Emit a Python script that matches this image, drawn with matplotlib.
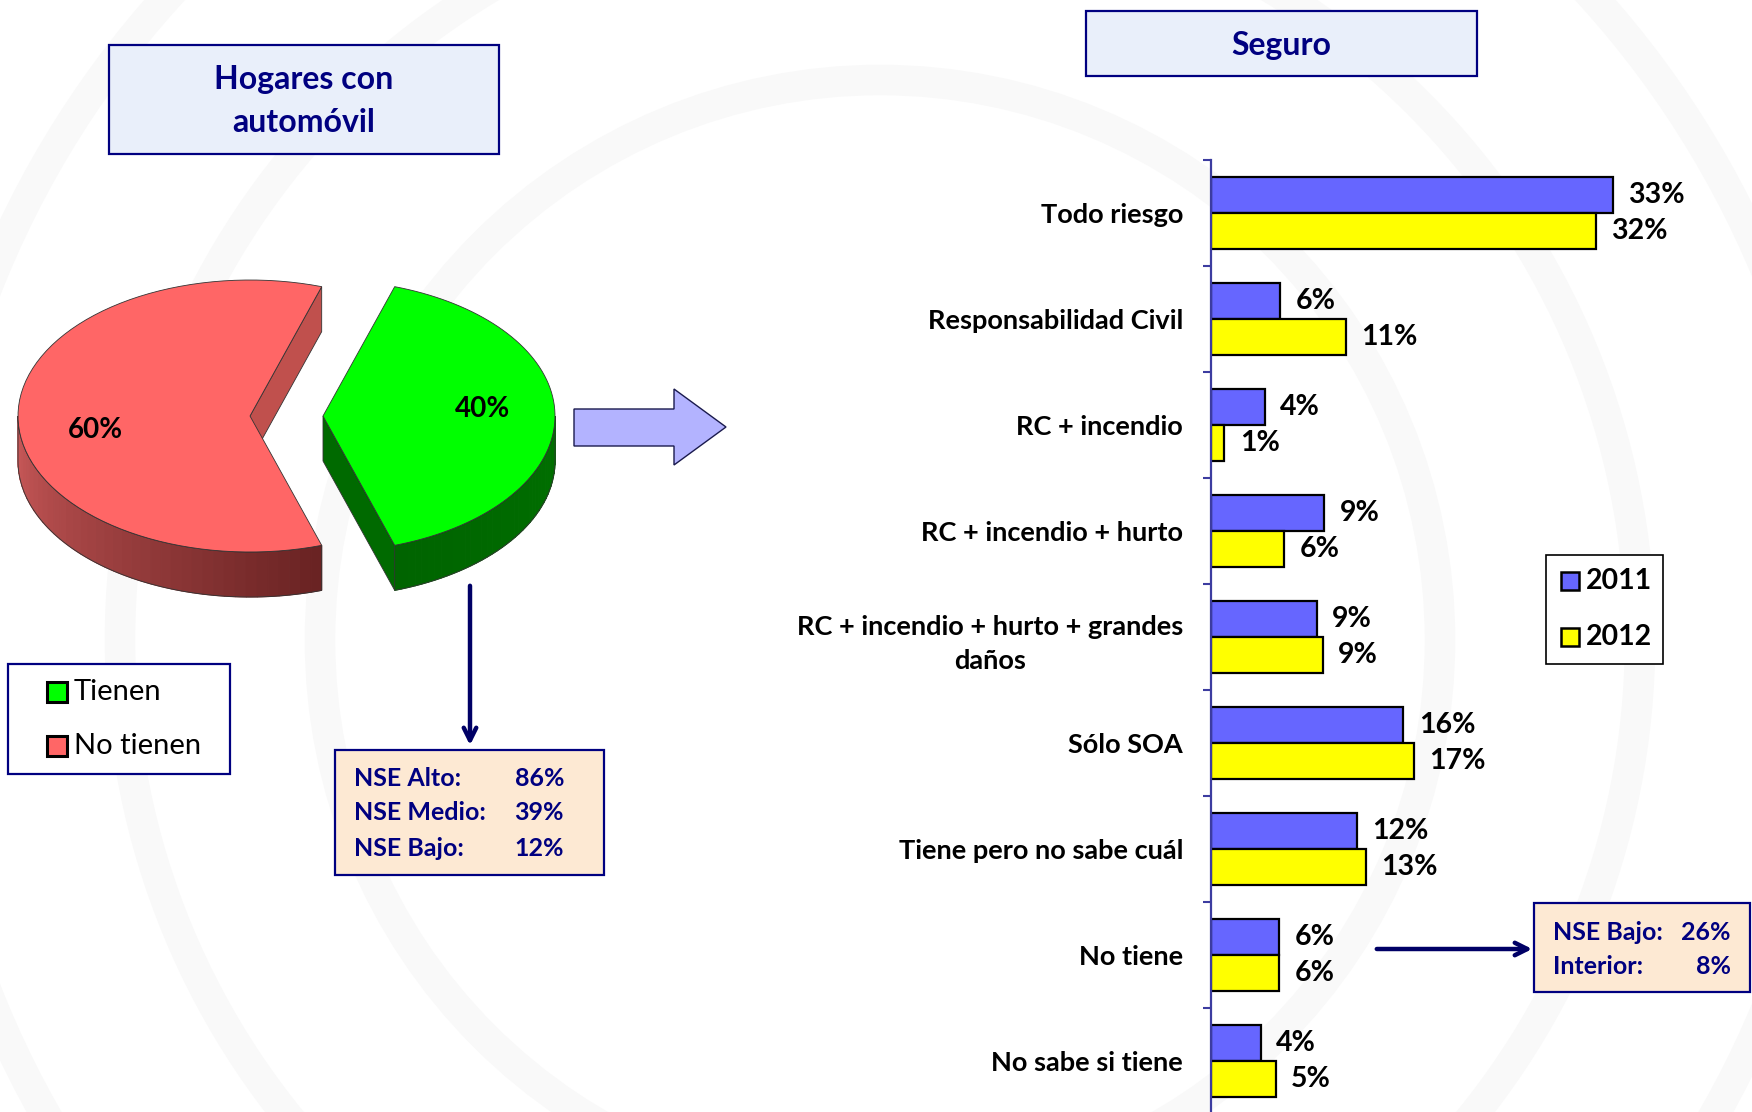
import numpy as np
import matplotlib
matplotlib.use("Agg")
import matplotlib.pyplot as plt
from matplotlib.patches import Polygon, Rectangle, Circle
from matplotlib.colors import to_rgb

# data
categories = [
    "Todo riesgo",
    "Responsabilidad Civil",
    "RC + incendio",
    "RC + incendio + hurto",
    "RC + incendio + hurto + grandes\ndaños",
    "Sólo SOA",
    "Tiene pero no sabe cuál",
    "No tiene",
    "No sabe si tiene",
]
values_2011 = [33.0, 5.7, 4.4, 9.3, 8.7, 15.8, 12.0, 5.6, 4.1]
values_2012 = [31.6, 11.1, 1.1, 6.0, 9.2, 16.7, 12.7, 5.6, 5.3]
years = ["2011", "2012"]

pie_labels = ["Tienen", "No tienen"]
pie_values = [40, 60]

nse_car_labels = ["NSE Alto:", "NSE Medio:", "NSE Bajo:"]
nse_car_values = ["86%", "39%", "12%"]
nse_none_labels = ["NSE Bajo:", "Interior:"]
nse_none_values = ["26%", "8%"]

plt.rcParams["font.family"] = ["Lato", "DejaVu Sans"]
NAVY = "#000080"
W, H = 1752, 1112

fig = plt.figure(figsize=(W / 100, H / 100), dpi=100)
fig.patch.set_facecolor("white")

bg = fig.add_axes([0, 0, 1, 1])
bg.set_xlim(0, W)
bg.set_ylim(H, 0)
bg.axis("off")

# faint watermark rings
for r in [560, 760, 960]:
    bg.add_patch(Circle((880, 640), r, fill=False, ec="#F9F9F9", lw=22, zorder=0))

# title boxes
bg.add_patch(Rectangle((109, 45), 390, 109, fc="#E9EFFA", ec=NAVY, lw=1.6, zorder=2))
bg.text(304, 101, "Hogares con\nautomóvil", ha="center", va="center", fontsize=23,
        fontweight="bold", color=NAVY, linespacing=1.6, zorder=3)
bg.add_patch(Rectangle((1086, 11), 391, 65, fc="#E9EFFA", ec=NAVY, lw=1.6, zorder=2))
bg.text(1281, 45, "Seguro", ha="center", va="center", fontsize=23,
        fontweight="bold", color=NAVY, zorder=3)

# 3D pie drawn from the shares
a, b, depth = 232, 136, 45
red_c = np.array([250.0, 416.0])
green_span = 360 * pie_values[0] / sum(pie_values)
g0, g1 = -green_span / 2, green_span / 2
explode = 73
green_c = red_c + np.array([explode, 0.0])


def pt(c, ang, dz=0):
    t = np.radians(ang)
    return np.array([c[0] + a * np.cos(t), c[1] - b * np.sin(t) + dz])


def arc(c, a0, a1, dz=0, n=80):
    return np.array([pt(c, t, dz) for t in np.linspace(a0, a1, n)])


def wall(c, a0, a1, col0, col1, strips=40):
    angs = np.linspace(a0, a1, strips + 1)
    c0, c1 = np.array(to_rgb(col0)), np.array(to_rgb(col1))
    for i in range(strips):
        top = arc(c, angs[i], angs[i + 1], 0, 6)
        bot = arc(c, angs[i + 1], angs[i], depth, 6)
        f = i / (strips - 1)
        col = c0 + (c1 - c0) * f
        bg.add_patch(Polygon(np.vstack([top, bot]), closed=True,
                             fc=col, ec=col, lw=0.8, zorder=4))
    outline = np.vstack([arc(c, a0, a1), arc(c, a1, a0, depth)])
    bg.add_patch(Polygon(outline, closed=True, fill=False, ec="#333333", lw=0.6, zorder=4))


def cut_face(c, ang, col):
    p = pt(c, ang)
    quad = [c, p, p + [0, depth], c + [0, depth]]
    bg.add_patch(Polygon(quad, closed=True, fc=col, ec="#333333", lw=0.6, zorder=4))


# red slice (No tienen)
r0, r1 = g1, 360 + g0
wall(red_c, 180, r1, "#CB5A5A", "#6A2323")
cut_face(red_c, r0, "#C0504D")
bg.add_patch(Polygon(np.vstack([[red_c], arc(red_c, r0, r1)]), closed=True,
                     fc="#FF6666", ec="#333333", lw=0.6, zorder=5))

# green slice (Tienen)
cut_face(green_c, g0, "#006A00")
wall(green_c, g0, 0, "#006400", "#007000")
bg.add_patch(Polygon(np.vstack([[green_c], arc(green_c, g0, g1)]), closed=True,
                     fc="#00FF00", ec="#333333", lw=0.6, zorder=5))

bg.text(95, 430, f"{pie_values[1]}%", ha="center", va="center", fontsize=20,
        fontweight="bold", zorder=6)
bg.text(483, 409, f"{pie_values[0]}%", ha="center", va="center", fontsize=20,
        fontweight="bold", zorder=6)

# pie legend
bg.add_patch(Rectangle((8, 664), 222, 110, fc="white", ec=NAVY, lw=1.6, zorder=2))
for yy, lab, col in zip([692, 746], pie_labels, ["#00FF00", "#FF6666"]):
    bg.add_patch(Rectangle((47, yy - 10), 20, 20, fc=col, ec="black", lw=2.2, zorder=3))
    bg.text(74, yy, lab, ha="left", va="center", fontsize=21, zorder=3)

# block arrow towards bar chart
arrow_pts = [(574, 409), (674, 409), (674, 389), (726, 427), (674, 465), (674, 446), (574, 446)]
bg.add_patch(Polygon(arrow_pts, closed=True, fc="#B3B3FF", ec="#1A1A4D", lw=1.0, zorder=3))

# arrow down to NSE box
bg.annotate("", xy=(470, 748), xytext=(470, 583),
            arrowprops=dict(arrowstyle="->,head_length=0.9,head_width=0.45",
                            lw=3.2, color="#000066"), zorder=3)
bg.add_patch(Rectangle((335, 750), 269, 125, fc="#FDE9D3", ec=NAVY, lw=1.6, zorder=2))
for yy, lab, val in zip([778, 813, 849], nse_car_labels, nse_car_values):
    bg.text(354, yy, lab, ha="left", va="center", fontsize=18, fontweight="bold",
            color=NAVY, zorder=3)
    bg.text(564, yy, val, ha="right", va="center", fontsize=18, fontweight="bold",
            color=NAVY, zorder=3)

# arrow to right NSE box
bg.annotate("", xy=(1535, 949), xytext=(1374, 949),
            arrowprops=dict(arrowstyle="->,head_length=0.9,head_width=0.45",
                            lw=3.2, color="#000066"), zorder=3)
bg.add_patch(Rectangle((1534, 903), 216, 89, fc="#FDE9D3", ec=NAVY, lw=1.6, zorder=2))
for yy, lab, val in zip([932, 966], nse_none_labels, nse_none_values):
    bg.text(1553, yy, lab, ha="left", va="center", fontsize=18, fontweight="bold",
            color=NAVY, zorder=3)
    bg.text(1731, yy, val, ha="right", va="center", fontsize=18, fontweight="bold",
            color=NAVY, zorder=3)

# bar legend
bg.add_patch(Rectangle((1546, 555), 117, 109, fc="white", ec="black", lw=1.2, zorder=2))
for yy, lab, col in zip([581, 637], years, ["#6666FF", "#FFFF00"]):
    bg.add_patch(Rectangle((1561, yy - 9), 18, 18, fc=col, ec="black", lw=1.8, zorder=3))
    bg.text(1586, yy, lab, ha="left", va="center", fontsize=20.5, fontweight="bold", zorder=3)

# bar chart
ax_left, ax_top, ax_bottom = 1211, 160, 1114
ax = fig.add_axes([ax_left / W, (H - ax_bottom) / H, 487 / W, (ax_bottom - ax_top) / H])
ax.patch.set_alpha(0)
n = len(categories)
y = np.arange(n) + 0.5
h = 0.34
ax.barh(y - h / 2, values_2011, height=h, color="#6666FF", edgecolor="black", lw=1.6)
ax.barh(y + h / 2, values_2012, height=h, color="#FFFF00", edgecolor="black", lw=1.6)
for yy, v in zip(y - h / 2, values_2011):
    ax.annotate(f"{v:.0f}%", (v, yy), xytext=(11, 0), textcoords="offset points",
                va="center", ha="left", fontsize=20.5, fontweight="bold")
for yy, v in zip(y + h / 2, values_2012):
    ax.annotate(f"{v:.0f}%", (v, yy), xytext=(11, 0), textcoords="offset points",
                va="center", ha="left", fontsize=20.5, fontweight="bold")

ax.set_xlim(0, 40)
ax.set_ylim(n, 0)
ax.set_yticks(y)
ax.set_yticklabels(categories, fontsize=19.5, fontweight="bold", multialignment="center",
                   linespacing=1.5)
ax.set_yticks(np.arange(n + 1), minor=True)
ax.tick_params(axis="y", which="major", length=0, pad=20)
ax.tick_params(axis="y", which="minor", length=6, width=1.5, color="#3C3CA0")
ax.set_xticks([])
for s in ["top", "right", "bottom"]:
    ax.spines[s].set_visible(False)
ax.spines["left"].set_color("#3C3CA0")
ax.spines["left"].set_linewidth(1.6)

fig.savefig("out.png", dpi=100)
